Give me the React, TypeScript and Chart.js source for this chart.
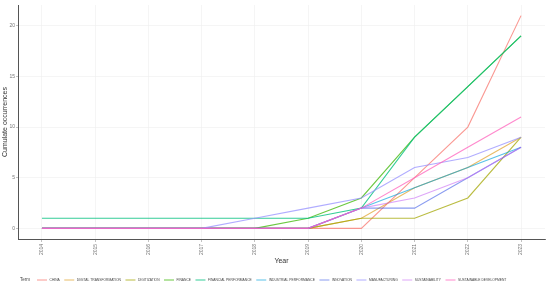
import React, { useEffect, useRef } from "react";
import { Chart, registerables } from "chart.js";
Chart.register(...registerables);

const years = [2014, 2015, 2016, 2017, 2018, 2019, 2020, 2021, 2022, 2023];
const terms = [
  "CHINA",
  "DIGITAL TRANSFORMATION",
  "DIGITIZATION",
  "FINANCE",
  "FINANCIAL PERFORMANCE",
  "INDUSTRIAL PERFORMANCE",
  "INNOVATION",
  "MANUFACTURING",
  "SUSTAINABILITY",
  "SUSTAINABLE DEVELOPMENT",
];
const termColors = [
  "rgba(248,118,109,0.75)",
  "rgba(216,144,0,0.6)",
  "rgba(163,165,0,0.75)",
  "rgba(57,182,0,0.75)",
  "rgba(0,191,125,0.8)",
  "rgba(0,160,220,0.65)",
  "rgba(60,90,230,0.6)",
  "rgba(149,144,255,0.75)",
  "rgba(200,107,243,0.6)",
  "rgba(255,98,188,0.75)",
];
const china = [0, 0, 0, 0, 0, 0, 0, 5, 10, 21];
const digitalTransformation = [0, 0, 0, 0, 0, 0, 1, 4, 6, 9];
const digitization = [0, 0, 0, 0, 0, 0, 1, 1, 3, 9];
const finance = [0, 0, 0, 0, 0, 1, 3, 9, 14, 19];
const financialPerformance = [1, 1, 1, 1, 1, 1, 2, 9, 14, 19];
const industrialPerformance = [0, 0, 0, 0, 0, 0, 2, 4, 6, 8];
const innovation = [0, 0, 0, 0, 0, 0, 2, 2, 5, 8];
const manufacturing = [0, 0, 0, 0, 1, 2, 3, 6, 7, 9];
const sustainability = [0, 0, 0, 0, 0, 0, 2, 3, 5, 8];
const sustainableDevelopment = [0, 0, 0, 0, 0, 0, 2, 5, 8, 11];
const seriesValues = [
  china,
  digitalTransformation,
  digitization,
  finance,
  financialPerformance,
  industrialPerformance,
  innovation,
  manufacturing,
  sustainability,
  sustainableDevelopment,
];
const yTicks = [0, 5, 10, 15, 20];

const FONT = "'Liberation Sans', Arial, sans-serif";

const legendPlugin = {
  id: "termLegend",
  afterDraw(chart: any) {
    const ctx = chart.ctx;
    ctx.save();
    const y = 280;
    ctx.textBaseline = "middle";
    ctx.textAlign = "left";
    ctx.fillStyle = "#444";
    ctx.font = `4.5px ${FONT}`;
    ctx.fillText("Term", 20, y);
    ctx.font = `3.3px ${FONT}`;
    let x = 37;
    chart.data.datasets.forEach((ds: any) => {
      ctx.strokeStyle = ds.borderColor;
      ctx.lineWidth = 1;
      ctx.beginPath();
      ctx.moveTo(x, y);
      ctx.lineTo(x + 10, y);
      ctx.stroke();
      x += 12.5;
      ctx.fillStyle = "#444";
      ctx.fillText(ds.label, x, y);
      x += ctx.measureText(ds.label).width + 4.5;
    });
    ctx.restore();
  },
};

export default function App() {
  const ref = useRef<HTMLCanvasElement>(null);
  useEffect(() => {
    document.body.style.margin = "0";
    const chart = new Chart(ref.current!, {
      type: "line",
      data: {
        datasets: terms.map((t, i) => ({
          label: t,
          data: years.map((yr, j) => ({ x: yr, y: seriesValues[i][j] })),
          borderColor: termColors[i],
          backgroundColor: termColors[i],
          borderWidth: 1.1,
          pointRadius: 0,
          tension: 0,
          fill: false,
          order: terms.length - i,
        })),
      },
      options: {
        animation: false,
        responsive: false,
        maintainAspectRatio: false,
        layout: { padding: { top: 5, right: 5, left: 0, bottom: 25 } },
        plugins: { legend: { display: false }, tooltip: { enabled: false } },
        scales: {
          x: {
            type: "linear",
            min: 2013.55,
            max: 2023.45,
            afterBuildTicks: (s: any) => {
              s.ticks = years.map((v) => ({ value: v }));
            },
            afterFit: (s: any) => {
              s.height = 26;
            },
            ticks: {
              autoSkip: false,
              minRotation: 90,
              maxRotation: 90,
              padding: 2,
              color: "#777",
              font: { size: 5, family: FONT },
              callback: (v: any) => String(v),
            },
            grid: { color: "#eeeeee", lineWidth: 0.6, tickLength: 3, tickColor: "#999", tickWidth: 0.6 },
            border: { display: true, color: "#555", width: 1 },
            title: {
              display: true,
              text: "Year",
              color: "#333",
              font: { size: 7, family: FONT },
              padding: { top: 0, bottom: 0 },
            },
          },
          y: {
            type: "linear",
            min: -1.05,
            max: 22.05,
            afterBuildTicks: (s: any) => {
              s.ticks = yTicks.map((v) => ({ value: v }));
            },
            afterFit: (s: any) => {
              s.width = 18;
            },
            ticks: {
              padding: 1,
              color: "#777",
              font: { size: 5, family: FONT },
            },
            grid: { color: "#eeeeee", lineWidth: 0.6, tickLength: 2, tickColor: "#999", tickWidth: 0.6 },
            border: { display: true, color: "#555", width: 1 },
            title: {
              display: true,
              text: "Cumulate occurrences",
              color: "#333",
              font: { size: 7, family: FONT },
              padding: { top: 1, bottom: 0 },
            },
          },
        },
      },
      plugins: [legendPlugin],
    } as any);
    return () => chart.destroy();
  }, []);
  return (
    <div style={{ width: 550, height: 290 }}>
      <canvas ref={ref} width={550} height={290} style={{ width: 550, height: 290 }} />
    </div>
  );
}
